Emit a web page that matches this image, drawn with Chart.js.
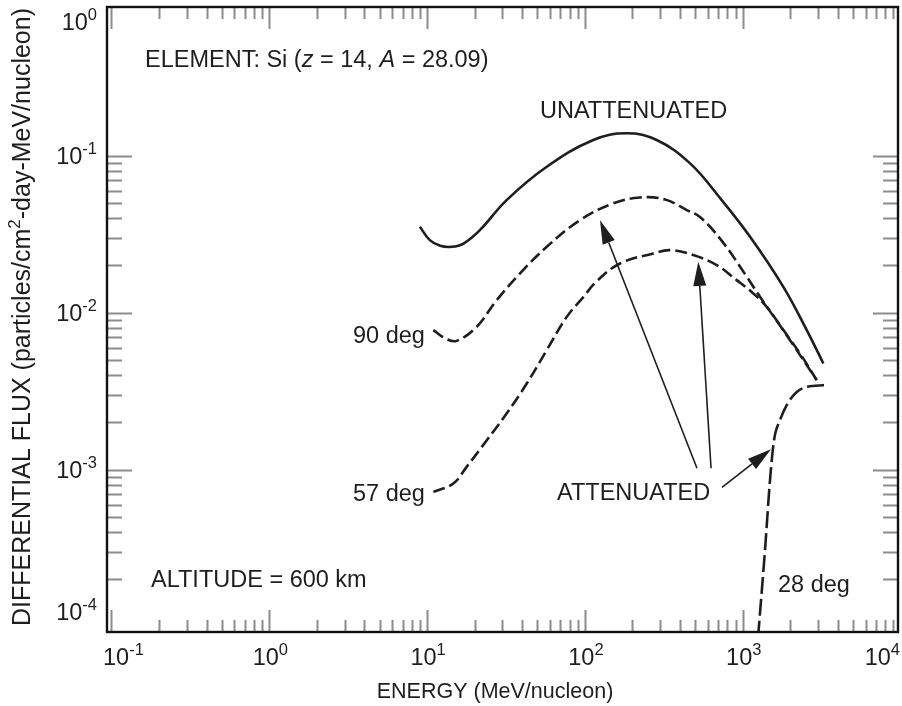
<!DOCTYPE html>
<html>
<head>
<meta charset="utf-8">
<script src="https://cdn.jsdelivr.net/npm/chart.js@4.4.1/dist/chart.umd.min.js"></script>
<style>
  html, body { margin: 0; padding: 0; background: #ffffff; }
  #wrap { width: 902px; height: 706px; }
</style>
</head>
<body>
<div id="wrap"><canvas id="chart" width="902" height="706"></canvas></div>
<script>
// Silicon (z = 14) differential flux at 600 km altitude, MeV/nucleon vs particles/cm2-day-MeV/nucleon
const energyUnattenuated = [9.0, 10.4, 12.1, 14.3, 17.0, 21.6, 31.9, 57.3, 113, 184, 285, 464, 718, 1113, 1809, 2545, 3242];
const fluxUnattenuated   = [0.0353, 0.0290, 0.0267, 0.0263, 0.0276, 0.0336, 0.0522, 0.0851, 0.126, 0.139, 0.126, 0.0894, 0.0538, 0.0305, 0.01463, 0.00775, 0.00475];

const energy90 = [10.95, 13.3, 15.4, 20.6, 27.6, 38.8, 57.3, 93.1, 151, 223, 322, 442, 536, 739, 1034, 1287, 1994, 2944];
const flux90   = [0.00775, 0.00679, 0.00662, 0.00813, 0.01203, 0.0178, 0.0263, 0.0389, 0.0497, 0.0542, 0.0526, 0.0451, 0.0407, 0.0286, 0.01762, 0.01263, 0.00669, 0.00372];

const energy57 = [10.95, 14.66, 17.8, 23.9, 31.9, 42.8, 57.3, 76.7, 97.7, 119, 167, 271, 346, 486, 684, 916, 1167, 1419, 1809, 2307, 2944];
const flux57   = [0.000722, 0.000817, 0.001042, 0.001542, 0.00228, 0.00354, 0.00578, 0.00941, 0.01258, 0.0159, 0.0206, 0.02387, 0.02506, 0.0233, 0.0201, 0.01613, 0.01327, 0.0109, 0.00775, 0.0055, 0.00372];

const energy28 = [1250, 1384, 1489, 1579, 1723, 1900, 2199, 2670, 3487];
const flux28   = [0.000085, 0.000307, 0.000857, 0.001542, 0.00207, 0.00258, 0.00313, 0.00340, 0.00346];

// Pointer arrows from the ATTENUATED caption: [tailE, tailF, tipE, tipF]
const arrowAt90 = [513, 0.001022, 124.6, 0.0389];
const arrowAt57 = [630, 0.001022, 523, 0.0211];
const arrowAt28 = [739, 0.000773, 1511, 0.001351];

// Axis ranges and decade labels
const energyRange = [0.09365, 9638];
const fluxRange   = [9.25e-5, 0.8866];
const energyDecades = [-1, 0, 1, 2, 3, 4];
const fluxDecades   = [0, -1, -2, -3, -4];

const FONT = '"Liberation Sans", Arial, Helvetica, sans-serif';
const INK = '#1e1e1e';
const TICK = '#8c8c8c';

function toPoints(xs, ys) { return xs.map((x, i) => ({ x: x, y: ys[i] })); }

function curve(label, xs, ys, dash, monotone) {
  const ds = {
    label: label,
    data: toPoints(xs, ys),
    borderColor: INK,
    borderWidth: 2.6,
    borderDash: dash,
    pointRadius: 0,
    fill: false,
    borderCapStyle: 'butt'
  };
  if (monotone) ds.cubicInterpolationMode = 'monotone';
  else ds.tension = 0.4;
  return ds;
}

function drawSup(ctx, base, sup, x, y, align, size, supSize, rise) {
  ctx.font = size + 'px ' + FONT;
  const wb = ctx.measureText(base).width;
  ctx.font = supSize + 'px ' + FONT;
  const ws = ctx.measureText(sup).width;
  const total = wb + ws;
  let x0 = x;
  if (align === 'right') x0 = x - total;
  else if (align === 'center') x0 = x - total / 2;
  ctx.textAlign = 'left';
  ctx.textBaseline = 'alphabetic';
  ctx.font = size + 'px ' + FONT;
  ctx.fillText(base, x0, y);
  ctx.font = supSize + 'px ' + FONT;
  ctx.fillText(sup, x0 + wb, y - rise);
}

// Draws a run of [text, italic] pieces left to right
function drawRuns(ctx, runs, x, y, size) {
  let cx = x;
  ctx.textAlign = 'left';
  ctx.textBaseline = 'alphabetic';
  runs.forEach(r => {
    ctx.font = (r[1] ? 'italic ' : '') + size + 'px ' + FONT;
    ctx.fillText(r[0], cx, y);
    cx += ctx.measureText(r[0]).width;
  });
}

function drawArrow(ctx, xs, ys, a) {
  const x1 = xs.getPixelForValue(a[0]), y1 = ys.getPixelForValue(a[1]);
  const x2 = xs.getPixelForValue(a[2]), y2 = ys.getPixelForValue(a[3]);
  const ang = Math.atan2(y2 - y1, x2 - x1);
  const headLen = 24, headHalf = 6.5;
  const bx = x2 - headLen * Math.cos(ang), by = y2 - headLen * Math.sin(ang);
  ctx.strokeStyle = INK;
  ctx.fillStyle = INK;
  ctx.lineWidth = 1.6;
  ctx.setLineDash([]);
  ctx.beginPath();
  ctx.moveTo(x1, y1);
  ctx.lineTo(bx, by);
  ctx.stroke();
  ctx.beginPath();
  ctx.moveTo(x2, y2);
  ctx.lineTo(bx + headHalf * Math.sin(ang), by - headHalf * Math.cos(ang));
  ctx.lineTo(bx - headHalf * Math.sin(ang), by + headHalf * Math.cos(ang));
  ctx.closePath();
  ctx.fill();
}

const framePlugin = {
  id: 'frameAndLabels',
  afterDatasetsDraw(chart) {
    const ctx = chart.ctx;
    const xs = chart.scales.x, ys = chart.scales.y;
    const a = chart.chartArea;
    ctx.save();

    // inward tick marks on all four sides
    ctx.strokeStyle = TICK;
    ctx.lineWidth = 2;
    ctx.setLineDash([]);
    ctx.beginPath();
    for (let k = -1; k <= 3; k++) {
      for (let d = 1; d <= 9; d++) {
        const v = d * Math.pow(10, k);
        if (v <= energyRange[0] * 1.01 || v >= energyRange[1]) continue;
        const px = Math.round(xs.getPixelForValue(v)) + 0.5;
        const len = d === 1 ? 22 : 12;
        ctx.moveTo(px, a.bottom); ctx.lineTo(px, a.bottom - len);
        ctx.moveTo(px, a.top); ctx.lineTo(px, a.top + len);
      }
    }
    for (let k = -4; k <= -2; k++) {
      for (let d = 1; d <= 9; d++) {
        const v = d * Math.pow(10, k);
        if (v <= fluxRange[0] * 1.2) continue;
        const py = Math.round(ys.getPixelForValue(v)) + 0.5;
        const len = d === 1 ? 25 : 15;
        ctx.moveTo(a.left, py); ctx.lineTo(a.left + len, py);
        ctx.moveTo(a.right, py); ctx.lineTo(a.right - len, py);
      }
    }
    {
      const py = Math.round(ys.getPixelForValue(0.1)) + 0.5;
      ctx.moveTo(a.left, py); ctx.lineTo(a.left + 25, py);
      ctx.moveTo(a.right, py); ctx.lineTo(a.right - 25, py);
    }
    ctx.stroke();

    // frame
    ctx.strokeStyle = '#111111';
    ctx.lineWidth = 2.4;
    ctx.strokeRect(a.left, a.top, a.right - a.left, a.bottom - a.top);

    // pointer arrows
    drawArrow(ctx, xs, ys, arrowAt90);
    drawArrow(ctx, xs, ys, arrowAt57);
    drawArrow(ctx, xs, ys, arrowAt28);

    ctx.fillStyle = INK;

    // energy decade labels
    energyDecades.forEach((e, i) => {
      const sup = String(e);
      const px = xs.getPixelForValue(Math.pow(10, e));
      if (i === 0) drawSup(ctx, '10', sup, a.left - 4, 665, 'left', 23.5, 16.5, 10);
      else if (i === energyDecades.length - 1) drawSup(ctx, '10', sup, a.right + 2, 665, 'right', 23.5, 16.5, 10);
      else drawSup(ctx, '10', sup, px + 1, 665, 'center', 23.5, 16.5, 10);
    });

    // flux decade labels
    fluxDecades.forEach((e, i) => {
      const sup = String(e);
      let py = ys.getPixelForValue(Math.pow(10, e)) + 8;
      if (i === 0) py = a.top + 23;
      if (i === fluxDecades.length - 1) py = a.bottom - 12;
      drawSup(ctx, '10', sup, a.left - 10, py, 'right', 23.5, 16.5, 10);
    });

    // annotations
    drawRuns(ctx, [['ELEMENT: Si (', false], ['z', true], [' = 14, ', false], ['A', true], [' = 28.09)', false]], 145, 67, 23.5);
    drawRuns(ctx, [['UNATTENUATED', false]], 540, 118, 23.5);
    drawRuns(ctx, [['90 deg', false]], 353, 343, 23.5);
    drawRuns(ctx, [['57 deg', false]], 353, 501, 23.5);
    drawRuns(ctx, [['ATTENUATED', false]], 557, 500, 23.5);
    drawRuns(ctx, [['ALTITUDE = 600 km', false]], 151, 587, 23.5);
    drawRuns(ctx, [['28 deg', false]], 778, 592, 23.5);

    // axis titles
    ctx.textAlign = 'center';
    ctx.textBaseline = 'alphabetic';
    ctx.font = '21.5px ' + FONT;
    ctx.fillText('ENERGY (MeV/nucleon)', 495, 698);

    ctx.save();
    ctx.translate(30, 317);
    ctx.rotate(-Math.PI / 2);
    const t1 = 'DIFFERENTIAL FLUX (particles/cm', t2 = '2', t3 = '-day-MeV/nucleon)';
    ctx.font = '25px ' + FONT;
    const w1 = ctx.measureText(t1).width, w3 = ctx.measureText(t3).width;
    ctx.font = '17px ' + FONT;
    const w2 = ctx.measureText(t2).width;
    const sx = -(w1 + w2 + w3) / 2;
    ctx.textAlign = 'left';
    ctx.font = '25px ' + FONT;
    ctx.fillText(t1, sx, 0);
    ctx.font = '17px ' + FONT;
    ctx.fillText(t2, sx + w1, -10);
    ctx.font = '25px ' + FONT;
    ctx.fillText(t3, sx + w1 + w2, 0);
    ctx.restore();

    ctx.restore();
  }
};

new Chart(document.getElementById('chart'), {
  type: 'line',
  data: {
    datasets: [
      curve('UNATTENUATED', energyUnattenuated, fluxUnattenuated, [], false),
      curve('90 deg', energy90, flux90, [12, 5], false),
      curve('57 deg', energy57, flux57, [12, 5], false),
      curve('28 deg', energy28, flux28, [17, 5], true)
    ]
  },
  options: {
    responsive: false,
    animation: false,
    devicePixelRatio: 1,
    layout: { padding: { left: 107, top: 7, right: 4, bottom: 74 } },
    plugins: { legend: { display: false }, tooltip: { enabled: false } },
    scales: {
      x: { type: 'logarithmic', display: false, min: energyRange[0], max: energyRange[1] },
      y: { type: 'logarithmic', display: false, min: fluxRange[0], max: fluxRange[1] }
    }
  },
  plugins: [framePlugin]
});
</script>
</body>
</html>
